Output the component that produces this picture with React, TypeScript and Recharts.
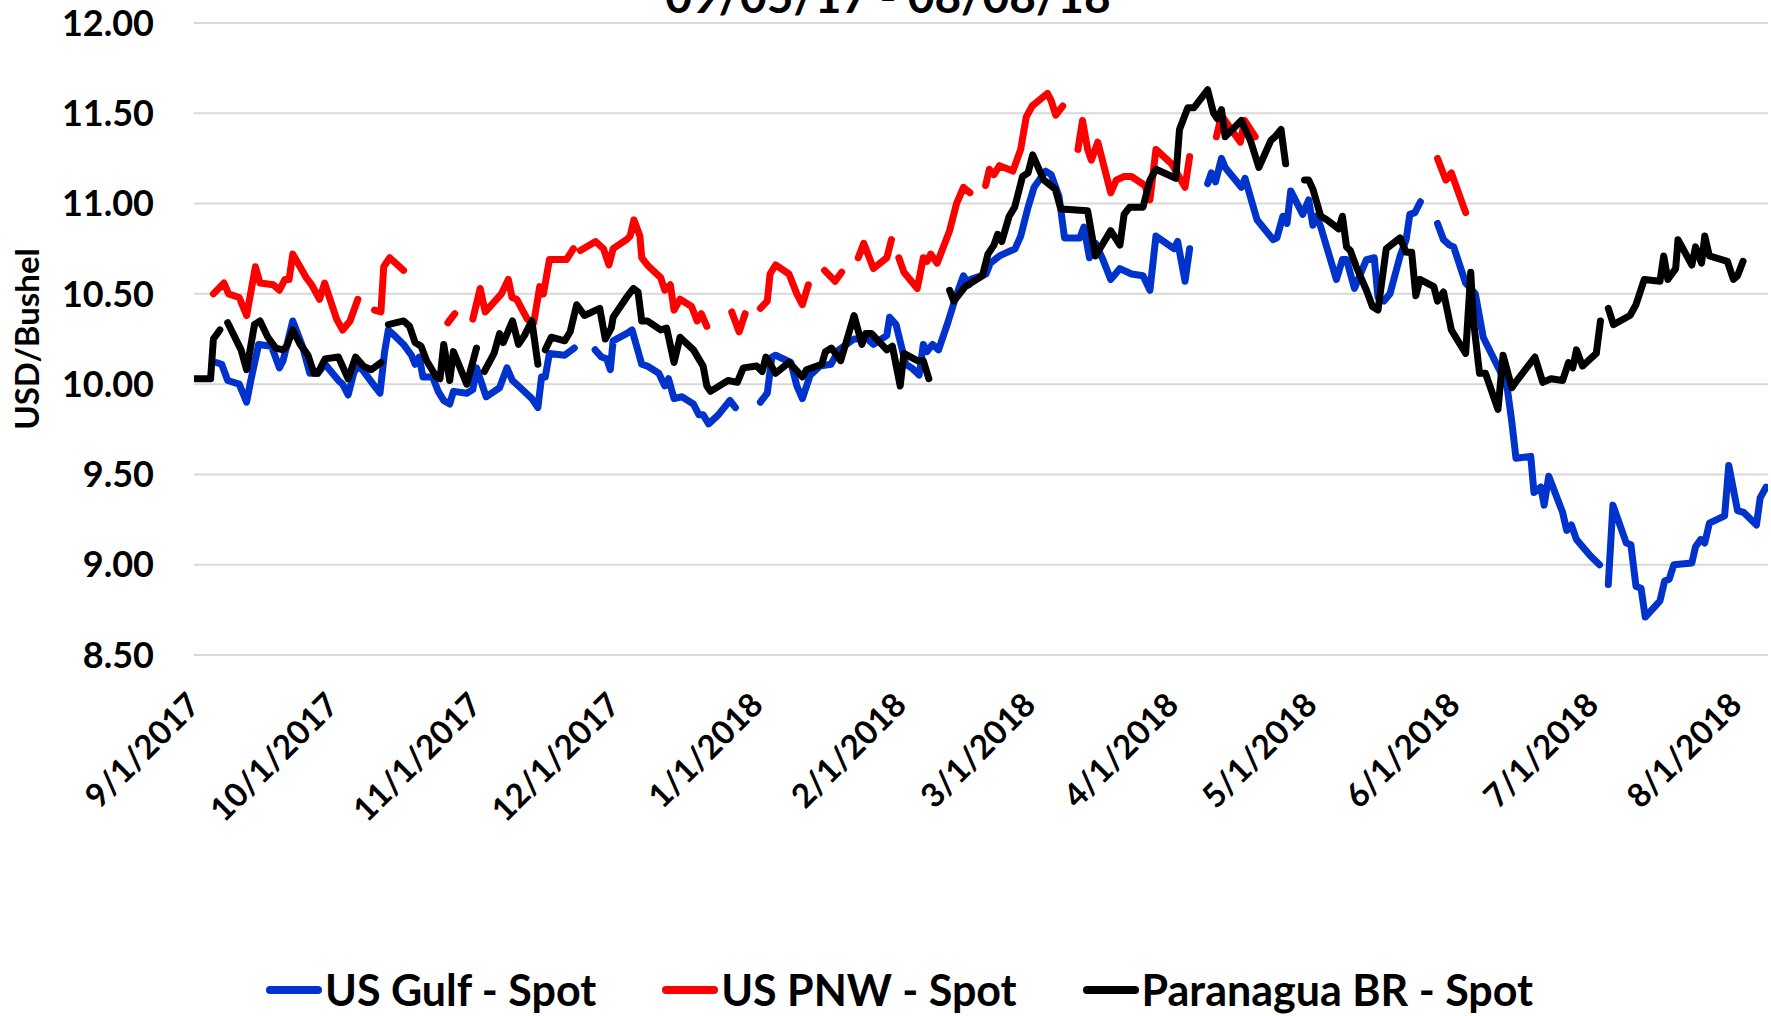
import React from 'react';
import { LineChart, Line, XAxis, YAxis, CartesianGrid } from 'recharts';

// x = days since 9/1/2017 ; y = USD/bushel ; null = no quote (gap in the line)
const gulfDays = [4.8, 6, 7.3, 9.8, 11.4, 12.3, 14, 16.8, 18.5, 19.3, 21.4, 23.5, 25.1, 26.8, 28.4, 31.3, 32.2, 33.4, 34.7, 35.9, 38.8, 40.3, 41.3, 42.1, 43.8, 45.4, 47.1, 47.9, 48.8, 49.6, 51.7, 52.9, 54.1, 55.4, 56.2, 59.1, 60.4, 61.2, 63.3, 66.2, 67.8, 69, 70.7, 73.2, 74.5, 75.3, 76.1, 77, 80.3, 82.4, 84.5, 86.9, 88.3, 89.4, 90.2, 90.8, 93.7, 94.9, 97, 98.2, 100.7, 102, 102.8, 104, 105.7, 108.2, 109.4, 110.3, 111.5, 113.6, 116.1, 117.3, 120, 122.7, 124.2, 125.2, 126, 129.3, 130.6, 131.8, 133.5, 135.6, 138, 139.7, 143, 145.9, 147.2, 150.1, 150.7, 152.1, 154.2, 155.5, 157.1, 158, 158.8, 160, 161.3, 163.3, 165, 166.7, 167.9, 168.3, 171.6, 172.5, 174.5, 177.9, 179.1, 180.7, 182, 184.5, 185.7, 187.4, 188.6, 191.9, 192.8, 194, 195.3, 196.9, 198.6, 200.6, 203.1, 205.6, 207.1, 208.4, 212.3, 213.1, 214.7, 215.7, 217.5, 219.6, 220.4, 221.3, 222.6, 223.4, 226.9, 227.7, 230.3, 233.8, 234.6, 235.9, 236.8, 237.6, 240.2, 241.5, 242.4, 243.2, 244.1, 247.5, 248.8, 249.7, 251.4, 254, 255.7, 256.5, 257.8, 259.1, 261.3, 262.6, 263.4, 264.5, 265.7, 267.5, 269.4, 270.7, 272, 272.9, 275.5, 277.6, 279.3, 282.8, 284.5, 285.5, 286.4, 289.6, 290.3, 291.8, 292.5, 293.5, 296.5, 297.4, 298.4, 299.5, 302.5, 304.5, 305.5, 306.4, 307.4, 310.3, 311.3, 312.4, 313.5, 314.4, 317.6, 318.6, 319.6, 320.6, 324.5, 325.3, 326.4, 327.3, 328.3, 331.6, 332.5, 334.4, 335.7, 338.5, 339.3, 340.6];
const gulfPrices = [10.12, 10.11, 10.02, 10.0, 9.9, 10.02, 10.22, 10.21, 10.09, 10.13, 10.35, 10.21, 10.06, 10.06, 10.11, 10.02, 10.0, 9.94, 10.07, 10.1, 10.0, 9.95, 10.18, 10.3, 10.26, 10.22, 10.16, 10.11, 10.15, 10.04, 10.04, 9.96, 9.91, 9.89, 9.96, 9.95, 9.97, 10.09, 9.93, 9.98, 10.09, 10.02, 9.98, 9.92, 9.87, 10.04, 10.04, 10.17, 10.16, 10.2, null, 10.19, 10.15, 10.14, 10.08, 10.24, 10.28, 10.3, 10.11, 10.1, 10.06, 9.99, 10.03, 9.92, 9.93, 9.89, 9.83, 9.83, 9.78, 9.83, 9.91, 9.87, null, 9.9, 9.95, 10.15, 10.16, 10.12, 9.99, 9.92, 10.05, 10.1, 10.11, 10.19, 10.25, 10.25, 10.22, 10.27, 10.37, 10.33, 10.11, 10.09, 10.05, 10.22, 10.18, 10.22, 10.19, 10.34, 10.48, 10.6, 10.55, 10.58, 10.61, 10.67, 10.71, 10.75, 10.82, 10.98, 11.09, 11.18, 11.16, 11.04, 10.81, 10.81, 10.87, 10.7, 10.78, 10.69, 10.58, 10.64, 10.61, 10.6, 10.52, 10.82, 10.75, 10.79, 10.57, 10.75, null, 11.11, 11.17, 11.12, 11.25, 11.2, 11.09, 11.14, 10.91, 10.8, 10.81, 10.93, 10.89, 11.07, 10.94, 11.02, 10.88, 10.93, 10.87, 10.58, 10.69, 10.69, 10.53, 10.69, 10.7, 10.48, 10.46, 10.5, 10.71, 10.8, 10.94, 10.95, 11.01, null, 10.89, 10.8, 10.77, 10.76, 10.56, 10.5, 10.26, 10.08, 9.98, 9.79, 9.59, 9.6, 9.4, 9.43, 9.33, 9.49, 9.29, 9.19, 9.22, 9.14, 9.05, 9.0, null, 8.89, 9.33, 9.12, 9.11, 8.88, 8.87, 8.71, 8.8, 8.91, 8.92, 9.0, 9.01, 9.1, 9.14, 9.12, 9.23, 9.27, 9.55, 9.3, 9.29, 9.22, 9.37, 9.43];

const pnwDays = [4.2, 6.5, 7.5, 9.8, 11.4, 13.3, 14.3, 17.2, 18.5, 19.7, 20.6, 21.4, 24.3, 25.5, 27.2, 28.3, 30.9, 32.2, 33.8, 35.5, 37.3, 39.1, 40.5, 41.1, 42.4, 45.4, 50, 55, 56.5, 58.5, 60.4, 62, 63.1, 66.6, 68.1, 68.9, 69.9, 72.2, 73.6, 74.9, 75.7, 77, 80.7, 82.2, 83, 83.7, 87, 88.7, 89.9, 90.8, 93.7, 94.5, 95.3, 96.6, 97, 98.2, 101.1, 102, 103.2, 104, 105.3, 107.8, 109, 109.9, 111.1, 113.8, 116.5, 118.1, 119.4, 121, 122.7, 124.2, 124.8, 126, 128.9, 130.6, 131.8, 133.1, 135, 136.6, 138.9, 140.3, 142, 143.9, 145.1, 147.2, 150.1, 151.1, 152, 152.7, 153.8, 156.7, 158, 158.8, 159.6, 161, 163.7, 165.2, 166.7, 168.1, 170, 171.5, 172.3, 173.3, 174.5, 177.4, 179.1, 180.3, 181.6, 184.9, 185.7, 186.7, 188.2, 190, 191.5, 192.5, 193.6, 194.4, 195.8, 198.6, 199.8, 201.5, 203.1, 206, 207.1, 208.4, 211.8, 214.7, 215.7, 218, 221.5, 222.6, 224.7, 226.7, 227.6, 229.9, 250, 269.4, 271.2, 272.4, 275.5];
const pnwPrices = [10.5, 10.56, 10.5, 10.48, 10.38, 10.65, 10.56, 10.55, 10.52, 10.58, 10.58, 10.72, 10.59, 10.55, 10.47, 10.56, 10.36, 10.3, 10.35, 10.47, null, 10.41, 10.4, 10.65, 10.7, 10.63, null, 10.34, 10.39, null, 10.36, 10.53, 10.4, 10.5, 10.58, 10.48, 10.47, 10.36, 10.34, 10.54, 10.5, 10.69, 10.69, 10.75, null, 10.74, 10.79, 10.75, 10.66, 10.75, 10.8, 10.82, 10.91, 10.82, 10.7, 10.66, 10.59, 10.52, 10.55, 10.41, 10.47, 10.43, 10.35, 10.39, 10.32, null, 10.4, 10.29, 10.39, null, 10.42, 10.46, 10.61, 10.66, 10.61, 10.5, 10.44, 10.55, null, 10.63, 10.57, 10.62, null, 10.7, 10.78, 10.64, 10.7, 10.8, null, 10.7, 10.62, 10.53, 10.7, 10.68, 10.72, 10.67, 10.85, 11.0, 11.09, 11.06, null, 11.1, 11.19, 11.16, 11.21, 11.18, 11.3, 11.48, 11.54, 11.61, 11.57, 11.49, 11.54, null, 11.3, 11.46, 11.3, 11.24, 11.34, 11.06, 11.13, 11.15, 11.15, 11.1, 11.02, 11.3, 11.22, 11.09, 11.26, null, 11.37, 11.49, 11.41, 11.34, 11.46, 11.37, null, 11.25, 11.13, 11.17, 10.95];

const brDays = [0.25, 3.6, 4.2, 5.6, 6.5, 7.3, 10.2, 11.4, 13.1, 14.3, 16, 17.7, 19.3, 20.1, 21.4, 23, 24.7, 26, 26.8, 28.4, 31.3, 33.4, 35, 36.7, 38.4, 40.5, 41.3, 42.1, 45.4, 46.7, 47.9, 49.2, 50.4, 52.5, 53.3, 54.1, 55.4, 56.2, 57.5, 59.1, 61.2, 62, 62.9, 65, 66.2, 67, 69, 70.3, 71.6, 73.2, 74.5, 75.3, 76.1, 77.4, 80.3, 81.5, 82.9, 84.6, 87.9, 89.1, 90.4, 90.8, 93.7, 95.2, 96.2, 97, 98.2, 101.1, 102.4, 104, 105.3, 108.2, 110.3, 111.1, 111.9, 115.7, 117.7, 119, 121.9, 123.1, 123.9, 126, 128.9, 131.8, 132.7, 136, 136.8, 138.1, 140.1, 143, 144.7, 145.5, 146.8, 150.1, 151.3, 153, 153.8, 156.7, 158, 159.2, 161, 163.7, 164.6, 167.1, 170.8, 172, 173.3, 174.1, 175, 176.6, 177.8, 179.5, 180.7, 181.7, 184.1, 186.6, 187.8, 193.6, 195.3, 198.6, 200.6, 201.5, 202.7, 205.6, 207.1, 208.4, 212.7, 213.5, 215.3, 216.6, 219.6, 220.9, 221.7, 222.6, 223.4, 226.9, 229, 230.7, 233.3, 234.2, 235.5, 236.5, 238.5, 240.6, 241.5, 242.4, 244.1, 245.4, 248, 248.8, 249.7, 250.5, 251.8, 254, 255.3, 256.5, 258.3, 261.3, 262.6, 263.8, 264.7, 265.6, 268.6, 269.4, 270.7, 272.4, 275.5, 276.6, 277.2, 278.5, 279.8, 282.5, 283.6, 285.5, 286.6, 290.5, 292.2, 294, 296.5, 297.8, 298.7, 299.5, 300.8, 303.8, 304.7, 305.5, 306.4, 307.5, 311.1, 312.4, 314.2, 317.6, 318.4, 319.3, 321, 321.5, 324.5, 325.3, 326.6, 327.3, 328.3, 332.2, 333.5, 334.4, 335.6];
const brPrices = [10.03, 10.03, 10.25, 10.3, null, 10.34, 10.19, 10.08, 10.33, 10.35, 10.26, 10.2, 10.19, 10.21, 10.3, 10.22, 10.16, 10.06, 10.06, 10.14, 10.15, 10.03, 10.15, 10.1, 10.08, 10.12, null, 10.33, 10.35, 10.32, 10.23, 10.21, 10.13, 10.04, 10.03, 10.22, 10.02, 10.18, 10.1, 10.0, 10.2, null, 10.07, 10.17, 10.28, 10.23, 10.35, 10.22, 10.27, 10.35, 10.11, null, 10.19, 10.26, 10.24, 10.29, 10.44, 10.38, 10.42, 10.25, 10.31, 10.37, 10.48, 10.53, 10.51, 10.35, 10.35, 10.3, 10.31, 10.12, 10.26, 10.19, 10.1, 9.99, 9.96, 10.02, 10.01, 10.09, 10.1, 10.07, 10.15, 10.06, 10.12, 10.04, 10.08, 10.11, 10.18, 10.2, 10.13, 10.38, 10.22, 10.28, 10.28, 10.19, 10.21, 9.99, 10.17, 10.13, 10.13, 10.03, null, 10.52, 10.46, 10.54, 10.6, 10.72, 10.77, 10.83, 10.79, 10.93, 10.98, 11.15, 11.17, 11.27, 11.13, 11.08, 10.97, 10.96, 10.71, 10.85, 10.77, 10.94, 10.98, 10.98, 11.13, 11.19, 11.14, 11.41, 11.53, 11.53, 11.63, 11.5, 11.47, 11.52, 11.37, 11.46, 11.34, 11.2, 11.35, 11.37, 11.41, 11.22, null, 11.13, 11.13, 11.08, 10.93, 10.91, 10.86, 10.93, 10.76, 10.74, 10.65, 10.52, 10.43, 10.41, 10.75, 10.81, 10.73, 10.73, 10.49, 10.58, 10.54, 10.46, 10.51, 10.3, 10.17, 10.62, 10.35, 10.06, 10.06, 9.86, 10.16, 9.98, 10.02, 10.15, 10.01, 10.03, 10.02, 10.12, 10.09, 10.19, 10.1, 10.17, 10.35, null, 10.42, 10.33, 10.38, 10.44, 10.58, 10.57, 10.71, 10.58, 10.64, 10.8, 10.66, 10.76, 10.67, 10.82, 10.71, 10.68, 10.58, 10.6, 10.68];

const tickDays = [0, 30, 61, 91, 122, 153, 181, 212, 242, 273, 303, 334];
const tickLabels = ['9/1/2017', '10/1/2017', '11/1/2017', '12/1/2017', '1/1/2018', '2/1/2018', '3/1/2018', '4/1/2018', '5/1/2018', '6/1/2018', '7/1/2018', '8/1/2018'];
const yTicks = [8.5, 9, 9.5, 10, 10.5, 11, 11.5, 12];

const seriesNames = ['US Gulf - Spot', 'US PNW - Spot', 'Paranagua BR - Spot'];
const seriesColors = ['#0033cc', '#ff0000', '#000000'];

const toRows = (days: number[], prices: (number | null)[]) => days.map((d, i) => ({ d, v: prices[i] }));
const seriesData = [toRows(gulfDays, gulfPrices), toRows(pnwDays, pnwPrices), toRows(brDays, brPrices)];

const FONT = 'Lato, "Open Sans", sans-serif';

const MonthTick = ({ x, y, payload }: any) => {
  const i = tickDays.indexOf(payload.value);
  const tx = x + 8;
  const ty = y + 52;
  return (
    <text x={tx} y={ty} transform={`rotate(-45 ${tx} ${ty})`} textAnchor="end"
      fontFamily={FONT} fontWeight={700} fontSize={33} fill="#000">
      {tickLabels[i]}
    </text>
  );
};

export default function App() {
  return (
    <div style={{ position: 'absolute', left: 0, top: 0, width: 1771, height: 1016, overflow: 'hidden', background: '#fff', fontFamily: FONT }}>
      <LineChart width={1771} height={1016} margin={{ top: 23, right: 3, left: 0, bottom: 261 }}>
        <CartesianGrid horizontal vertical={false} stroke="#d9d9d9" strokeWidth={2} />
        <XAxis type="number" dataKey="d" domain={[0, 341]} ticks={tickDays} interval={0}
          axisLine={false} tickLine={false} tickSize={0} tickMargin={0} height={100}
          tick={<MonthTick />} allowDataOverflow />
        <YAxis type="number" domain={[8.5, 12]} ticks={yTicks} width={194} axisLine={false} tickLine={false}
          tickSize={0} tickMargin={40} tickFormatter={(v: number) => v.toFixed(2)}
          tick={{ fill: '#000', fontSize: 36, fontWeight: 700, fontFamily: FONT }} />
        {seriesData.map((rows, i) => (
          <Line key={seriesNames[i]} data={rows} dataKey="v" name={seriesNames[i]} type="linear"
            stroke={seriesColors[i]} strokeWidth={7} dot={false} activeDot={false}
            strokeLinecap="round" strokeLinejoin="round" connectNulls={false} isAnimationActive={false} />
        ))}
      </LineChart>

      <svg width={1771} height={1016} style={{ position: 'absolute', left: 0, top: 0, pointerEvents: 'none' }}>
        <text x={888} y={13} textAnchor="middle" fontFamily={FONT} fontWeight={700} fontSize={46} fill="#000">
          09/05/17 - 08/08/18
        </text>
        <text x={0} y={0} transform="translate(39 339) rotate(-90)" textAnchor="middle"
          fontFamily={FONT} fontWeight={700} fontSize={33} fill="#000">
          USD/Bushel
        </text>
      </svg>

      <div style={{ position: 'absolute', left: 14, top: 964, width: 1771, display: 'flex', justifyContent: 'center', alignItems: 'center', gap: 66 }}>
        {seriesNames.map((n, i) => (
          <div key={n} style={{ display: 'flex', alignItems: 'center', gap: 3 }}>
            <span style={{ display: 'inline-block', width: 56, height: 8, borderRadius: 4, background: seriesColors[i] }} />
            <span style={{ fontSize: 43, fontWeight: 700, color: '#000', lineHeight: '52px' }}>{n}</span>
          </div>
        ))}
      </div>
    </div>
  );
}
